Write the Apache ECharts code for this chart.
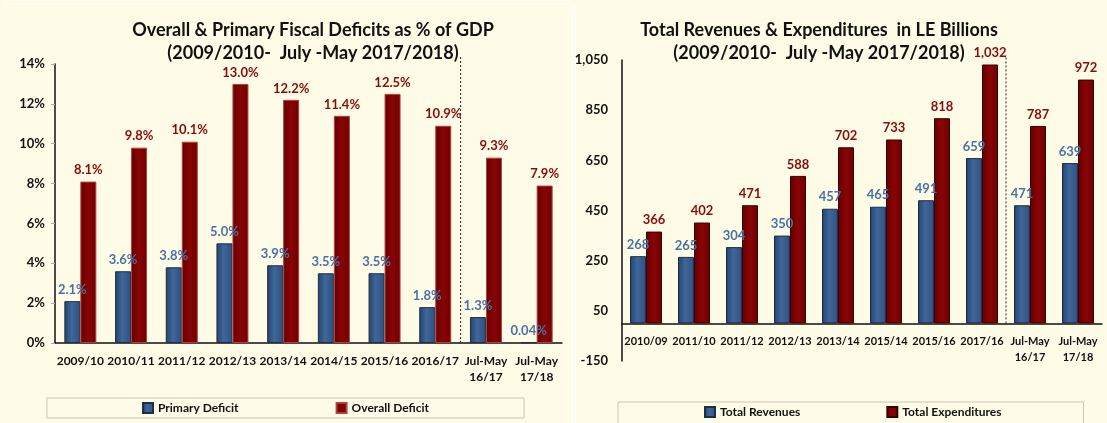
<!DOCTYPE html>
<html lang="en">
<head>
    <meta charset="UTF-8">
    <title>Fiscal Deficits and Revenues</title>
    <script src="https://cdn.jsdelivr.net/npm/echarts@6/dist/echarts.min.js"></script>
    <style>
        html, body { margin: 0; padding: 0; background: #FEFCE6; }
        #main { width: 1107px; height: 423px; }
    </style>
</head>
<body>
<div id="main"></div>
<script>
    // left chart: deficits as % of GDP
    var deficitYears = ['2009/10', '2010/11', '2011/12', '2012/13', '2013/14', '2014/15', '2015/16', '2016/17', 'Jul-May\n16/17', 'Jul-May\n17/18'];
    var primaryDeficit = [2.1, 3.6, 3.8, 5.0, 3.9, 3.5, 3.5, 1.8, 1.3, 0.04];
    var overallDeficit = [8.1, 9.8, 10.1, 13.0, 12.2, 11.4, 12.5, 10.9, 9.3, 7.9];

    // right chart: revenues & expenditures, LE billions
    var budgetYears = ['2010/09', '2011/10', '2011/12', '2012/13', '2013/14', '2015/14', '2015/16', '2017/16', 'Jul-May\n16/17', 'Jul-May\n17/18'];
    var totalRevenues = [268, 265, 304, 350, 457, 465, 491, 659, 471, 639];
    var totalExpenditures = [366, 402, 471, 588, 702, 733, 818, 1032, 787, 972];

    var font = 'Lato, "Open Sans", sans-serif';
    var blueLabel = '#4A71A6';
    var redLabel = '#8A0A0A';

    function blueFill() {
        return new echarts.graphic.LinearGradient(0, 0, 1, 0, [
            {offset: 0, color: '#23436C'},
            {offset: 0.45, color: '#3F6799'},
            {offset: 1, color: '#2C5080'}
        ]);
    }
    function redFill() {
        return new echarts.graphic.LinearGradient(0, 0, 1, 0, [
            {offset: 0, color: '#650000'},
            {offset: 0.5, color: '#880404'},
            {offset: 1, color: '#6E0000'}
        ]);
    }

    function pct(v) {
        return (v < 0.1 ? v.toFixed(2) : v.toFixed(1)) + '%';
    }
    function num(v) {
        return Number(v).toLocaleString('en-US');
    }

    function barSeries(name, data, xi, yi, fill, border, labelColor, fmt) {
        return {
            name: name,
            type: 'bar',
            xAxisIndex: xi,
            yAxisIndex: yi,
            data: data,
            barWidth: 16,
            barGap: '0%',
            itemStyle: {color: fill, borderColor: border, borderWidth: 1},
            label: {
                show: true,
                position: 'top',
                distance: 5,
                color: labelColor,
                fontFamily: font,
                fontWeight: 'bold',
                fontSize: 13,
                formatter: function (p) { return fmt(p.value); }
            }
        };
    }

    // dashed separator before the Jul-May columns
    function divider(xi, yi, top) {
        return {
            type: 'line',
            xAxisIndex: xi,
            yAxisIndex: yi,
            data: [[8, 0], [8, top]],
            symbol: 'none',
            silent: true,
            clip: false,
            lineStyle: {color: '#222', type: [2, 2], width: 1}
        };
    }

    function catAxisLabel(size) {
        return {
            color: '#111',
            fontFamily: font,
            fontWeight: 'bold',
            fontSize: size,
            interval: 0,
            lineHeight: 16,
            margin: 10
        };
    }

    var titleStyle = {fontFamily: font, fontWeight: 'bold', fontSize: 18, color: '#111', lineHeight: 23};

    var option = {
        backgroundColor: '#FEFCE6',
        animation: false,
        title: [
            {
                text: 'Overall & Primary Fiscal Deficits as % of GDP\n(2009/2010-  July -May 2017/2018)',
                left: 308, top: 14, textAlign: 'center',
                textStyle: titleStyle
            },
            {
                text: 'Total Revenues & Expenditures  in LE Billions\n(2009/2010-  July -May 2017/2018)',
                left: 814, top: 14, textAlign: 'center',
                textStyle: titleStyle
            }
        ],
        legend: [
            {
                data: ['Primary Deficit', 'Overall Deficit'],
                left: 47, top: 398,
                padding: [4, 95, 4, 95],
                itemGap: 97,
                itemWidth: 10, itemHeight: 10,
                icon: 'rect',
                borderColor: '#C9C7B4', borderWidth: 1,
                textStyle: {fontFamily: font, fontWeight: 'bold', fontSize: 12, color: '#111'}
            },
            {
                data: ['Total Revenues', 'Total Expenditures'],
                left: 618, top: 402,
                padding: [4, 82, 6, 86],
                itemGap: 86,
                itemWidth: 10, itemHeight: 10,
                icon: 'rect',
                borderColor: '#C9C7B4', borderWidth: 1,
                textStyle: {fontFamily: font, fontWeight: 'bold', fontSize: 12, color: '#111'}
            }
        ],
        grid: [
            {left: 55, right: 545, top: 64, bottom: 80},
            {left: 622, right: 5, top: 60, bottom: 62}
        ],
        xAxis: [
            {
                type: 'category', gridIndex: 0, data: deficitYears,
                axisLine: {lineStyle: {color: '#111', width: 1.5}},
                axisTick: {length: 5, lineStyle: {color: '#AAA'}},
                axisLabel: catAxisLabel(12)
            },
            {
                // sits on the zero line: 150 of 1200 units above the grid bottom
                type: 'category', gridIndex: 1, data: budgetYears,
                offset: -37.6,
                axisLine: {onZero: false, lineStyle: {color: '#111', width: 1.5}},
                axisTick: {length: 5, lineStyle: {color: '#AAA'}},
                axisLabel: catAxisLabel(11)
            },
            {type: 'value', gridIndex: 0, min: 0, max: 10, show: false},
            {type: 'value', gridIndex: 1, min: 0, max: 10, show: false}
        ],
        yAxis: [
            {
                type: 'value', gridIndex: 0, min: 0, max: 14, interval: 2,
                splitLine: {show: false},
                axisLine: {show: true, onZero: false, lineStyle: {color: '#111', width: 1.5}},
                axisTick: {show: true, length: 4, lineStyle: {color: '#AAA'}},
                axisLabel: {
                    color: '#111', fontFamily: font, fontWeight: 'bold', fontSize: 13, margin: 10,
                    formatter: '{value}%'
                }
            },
            {
                type: 'value', gridIndex: 1, min: -150, max: 1050, interval: 200,
                splitLine: {show: false},
                axisLine: {show: true, onZero: false, lineStyle: {color: '#111', width: 1.5}},
                axisTick: {show: false},
                axisLabel: {
                    color: '#111', fontFamily: font, fontWeight: 'bold', fontSize: 13, margin: 14,
                    formatter: function (v) { return num(v); }
                }
            }
        ],
        series: [
            barSeries('Primary Deficit', primaryDeficit, 0, 0, blueFill(), '#1E2F45', blueLabel, pct),
            barSeries('Overall Deficit', overallDeficit, 0, 0, redFill(), '#B04040', redLabel, pct),
            barSeries('Total Revenues', totalRevenues, 1, 1, blueFill(), '#1E2F45', blueLabel, num),
            barSeries('Total Expenditures', totalExpenditures, 1, 1, redFill(), '#3A0000', redLabel, num),
            divider(2, 0, 14.35),
            divider(3, 1, 1070)
        ],
        graphic: [
            // faint panel outlines
            {type: 'rect', shape: {x: 6, y: 4, width: 569, height: 430}, style: {fill: null, stroke: '#FFFFFF', lineWidth: 1}, silent: true},
            {type: 'rect', shape: {x: 572, y: 10, width: 540, height: 430}, style: {fill: null, stroke: '#FFFFFF', lineWidth: 1}, silent: true}
        ]
    };

    var chart = echarts.init(document.getElementById('main'));
    chart.setOption(option);
</script>
</body>
</html>
